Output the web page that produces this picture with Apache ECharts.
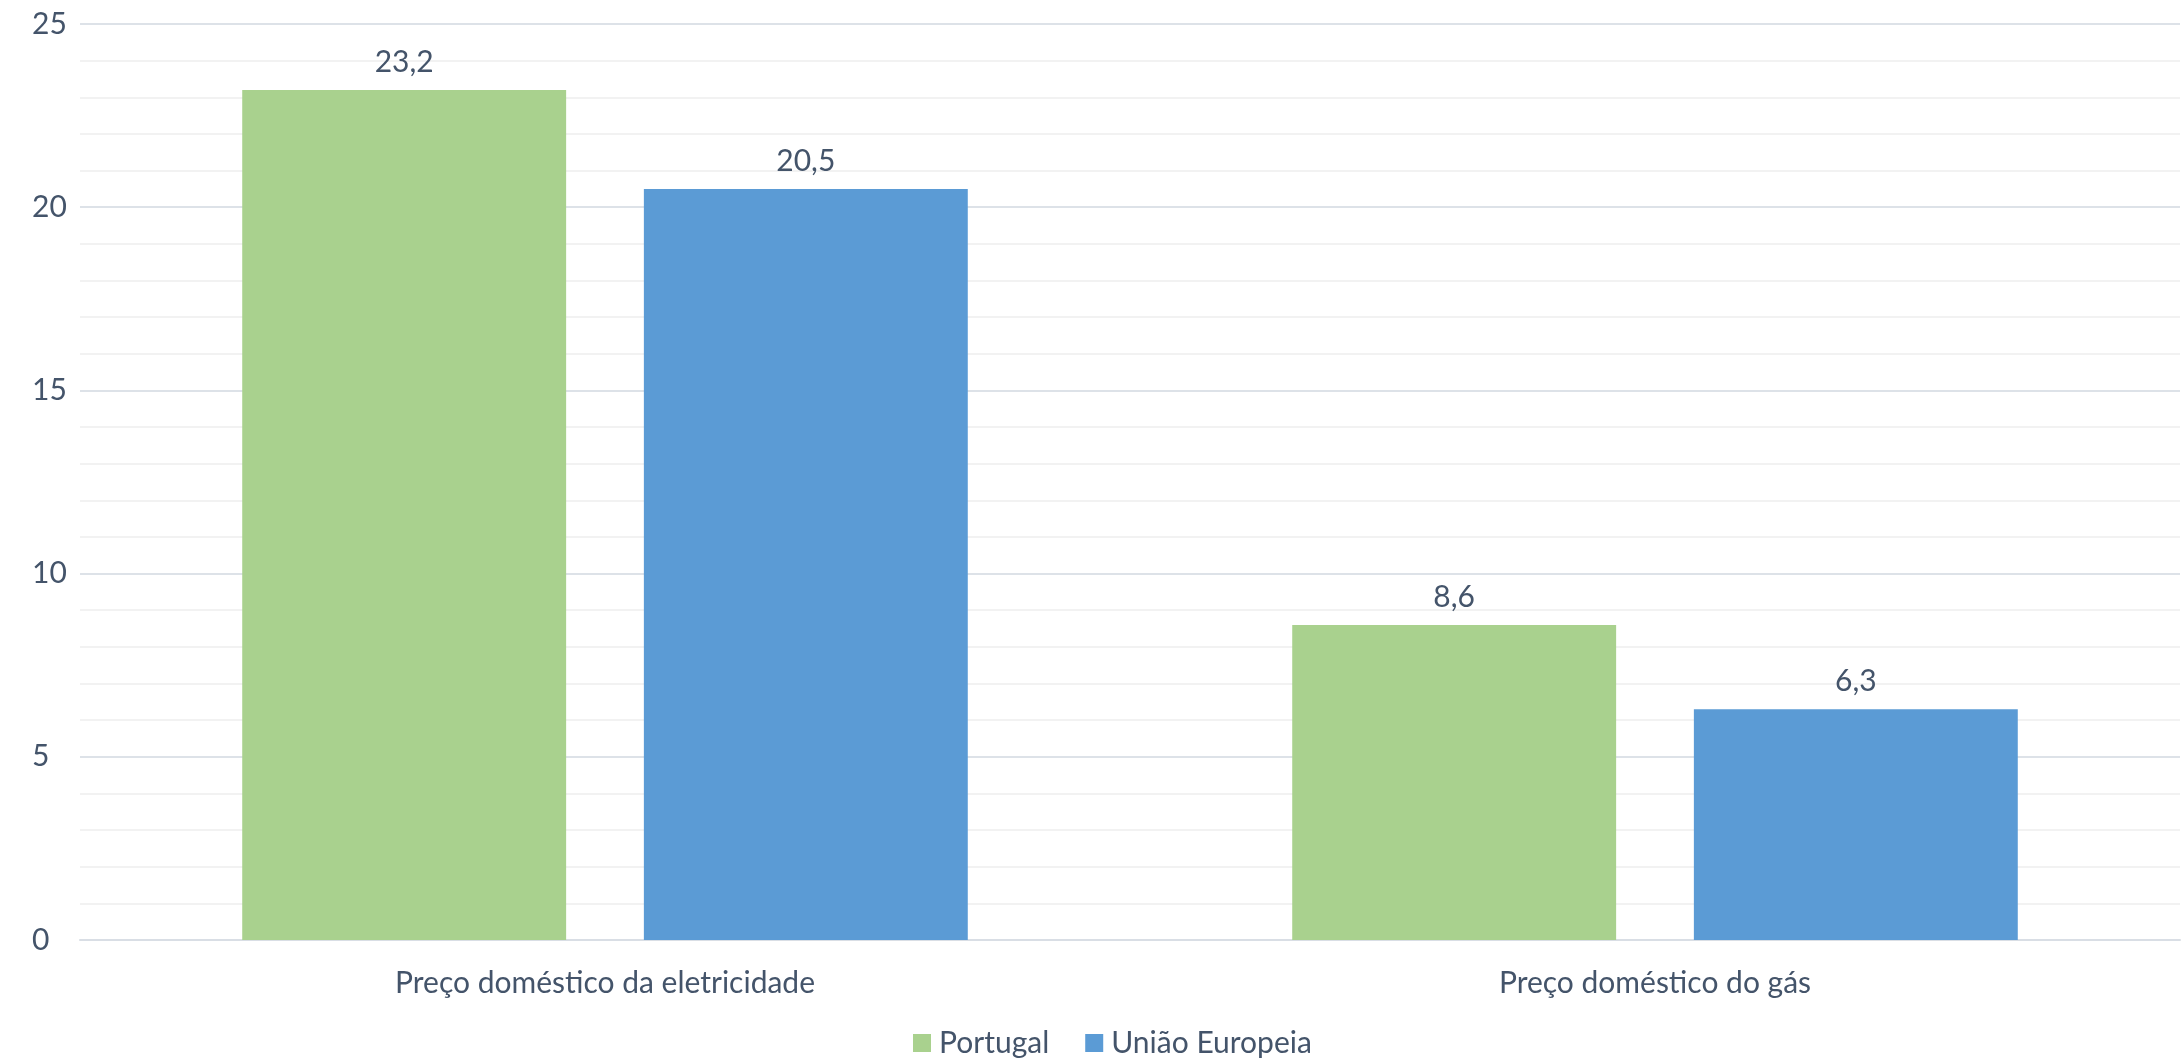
<!DOCTYPE html>
<html>
<head>
<meta charset="utf-8">
<script src="https://cdn.jsdelivr.net/npm/echarts@6/dist/echarts.min.js"></script>
<style>
  html, body { margin: 0; padding: 0; background: #ffffff; }
  #chart { width: 2181px; height: 1061px; }
</style>
</head>
<body>
<div id="chart"></div>
<script>
// Preço doméstico: Portugal vs. União Europeia
const categories = ['Preço doméstico da eletricidade', 'Preço doméstico do gás'];
const seriesNames = ['Portugal', 'União Europeia'];
const portugalValues = [23.2, 8.6];
const ueValues = [20.5, 6.3];
const yTicks = [0, 5, 10, 15, 20, 25];

const FONT = 'Lato, "Open Sans", sans-serif';
const TEXT = '#44546A';
const colors = ['#A9D18E', '#5B9BD5'];
const FS = 30;

const fmt = v => String(v).replace('.', ',');

const chart = echarts.init(document.getElementById('chart'), null, { renderer: 'canvas' });

const labelStyle = {
  show: true,
  position: 'top',
  distance: 13,
  color: TEXT,
  fontFamily: FONT,
  fontSize: FS,
  formatter: p => fmt(p.value)
};

chart.setOption({
  animation: false,
  color: colors,
  textStyle: { fontFamily: FONT, color: TEXT },
  grid: { left: 80, right: 1, top: 24, bottom: 121, containLabel: false },
  legend: {
    top: 1023,
    left: 908,
    icon: 'rect',
    itemWidth: 18,
    itemHeight: 18,
    itemGap: 36,
    textStyle: { color: TEXT, fontFamily: FONT, fontSize: FS, padding: [0, 0, 0, 3] },
    data: seriesNames
  },
  xAxis: {
    type: 'category',
    data: categories,
    axisLine: { show: true, lineStyle: { color: '#D9DEE5', width: 2 } },
    axisTick: { show: false },
    axisLabel: { color: TEXT, fontFamily: FONT, fontSize: FS, margin: 28 }
  },
  yAxis: {
    type: 'value',
    min: yTicks[0],
    max: yTicks[yTicks.length - 1],
    interval: yTicks[1] - yTicks[0],
    axisLine: { show: false },
    axisTick: { show: false },
    axisLabel: { color: TEXT, fontFamily: FONT, fontSize: FS, margin: 48, align: 'left',
      formatter: v => yTicks.includes(v) ? String(v) : '' },
    splitLine: { show: true, lineStyle: { color: '#DDE2E8', width: 2 } },
    minorTick: { show: false, splitNumber: 5 },
    minorSplitLine: { show: true, lineStyle: { color: '#F2F2F2', width: 2 } }
  },
  series: [
    {
      name: seriesNames[0],
      type: 'bar',
      data: portugalValues,
      barGap: '24%',
      barCategoryGap: '30.9%',
      label: labelStyle
    },
    {
      name: seriesNames[1],
      type: 'bar',
      data: ueValues,
      barGap: '24%',
      barCategoryGap: '30.9%',
      label: labelStyle
    }
  ]
});
</script>
</body>
</html>
